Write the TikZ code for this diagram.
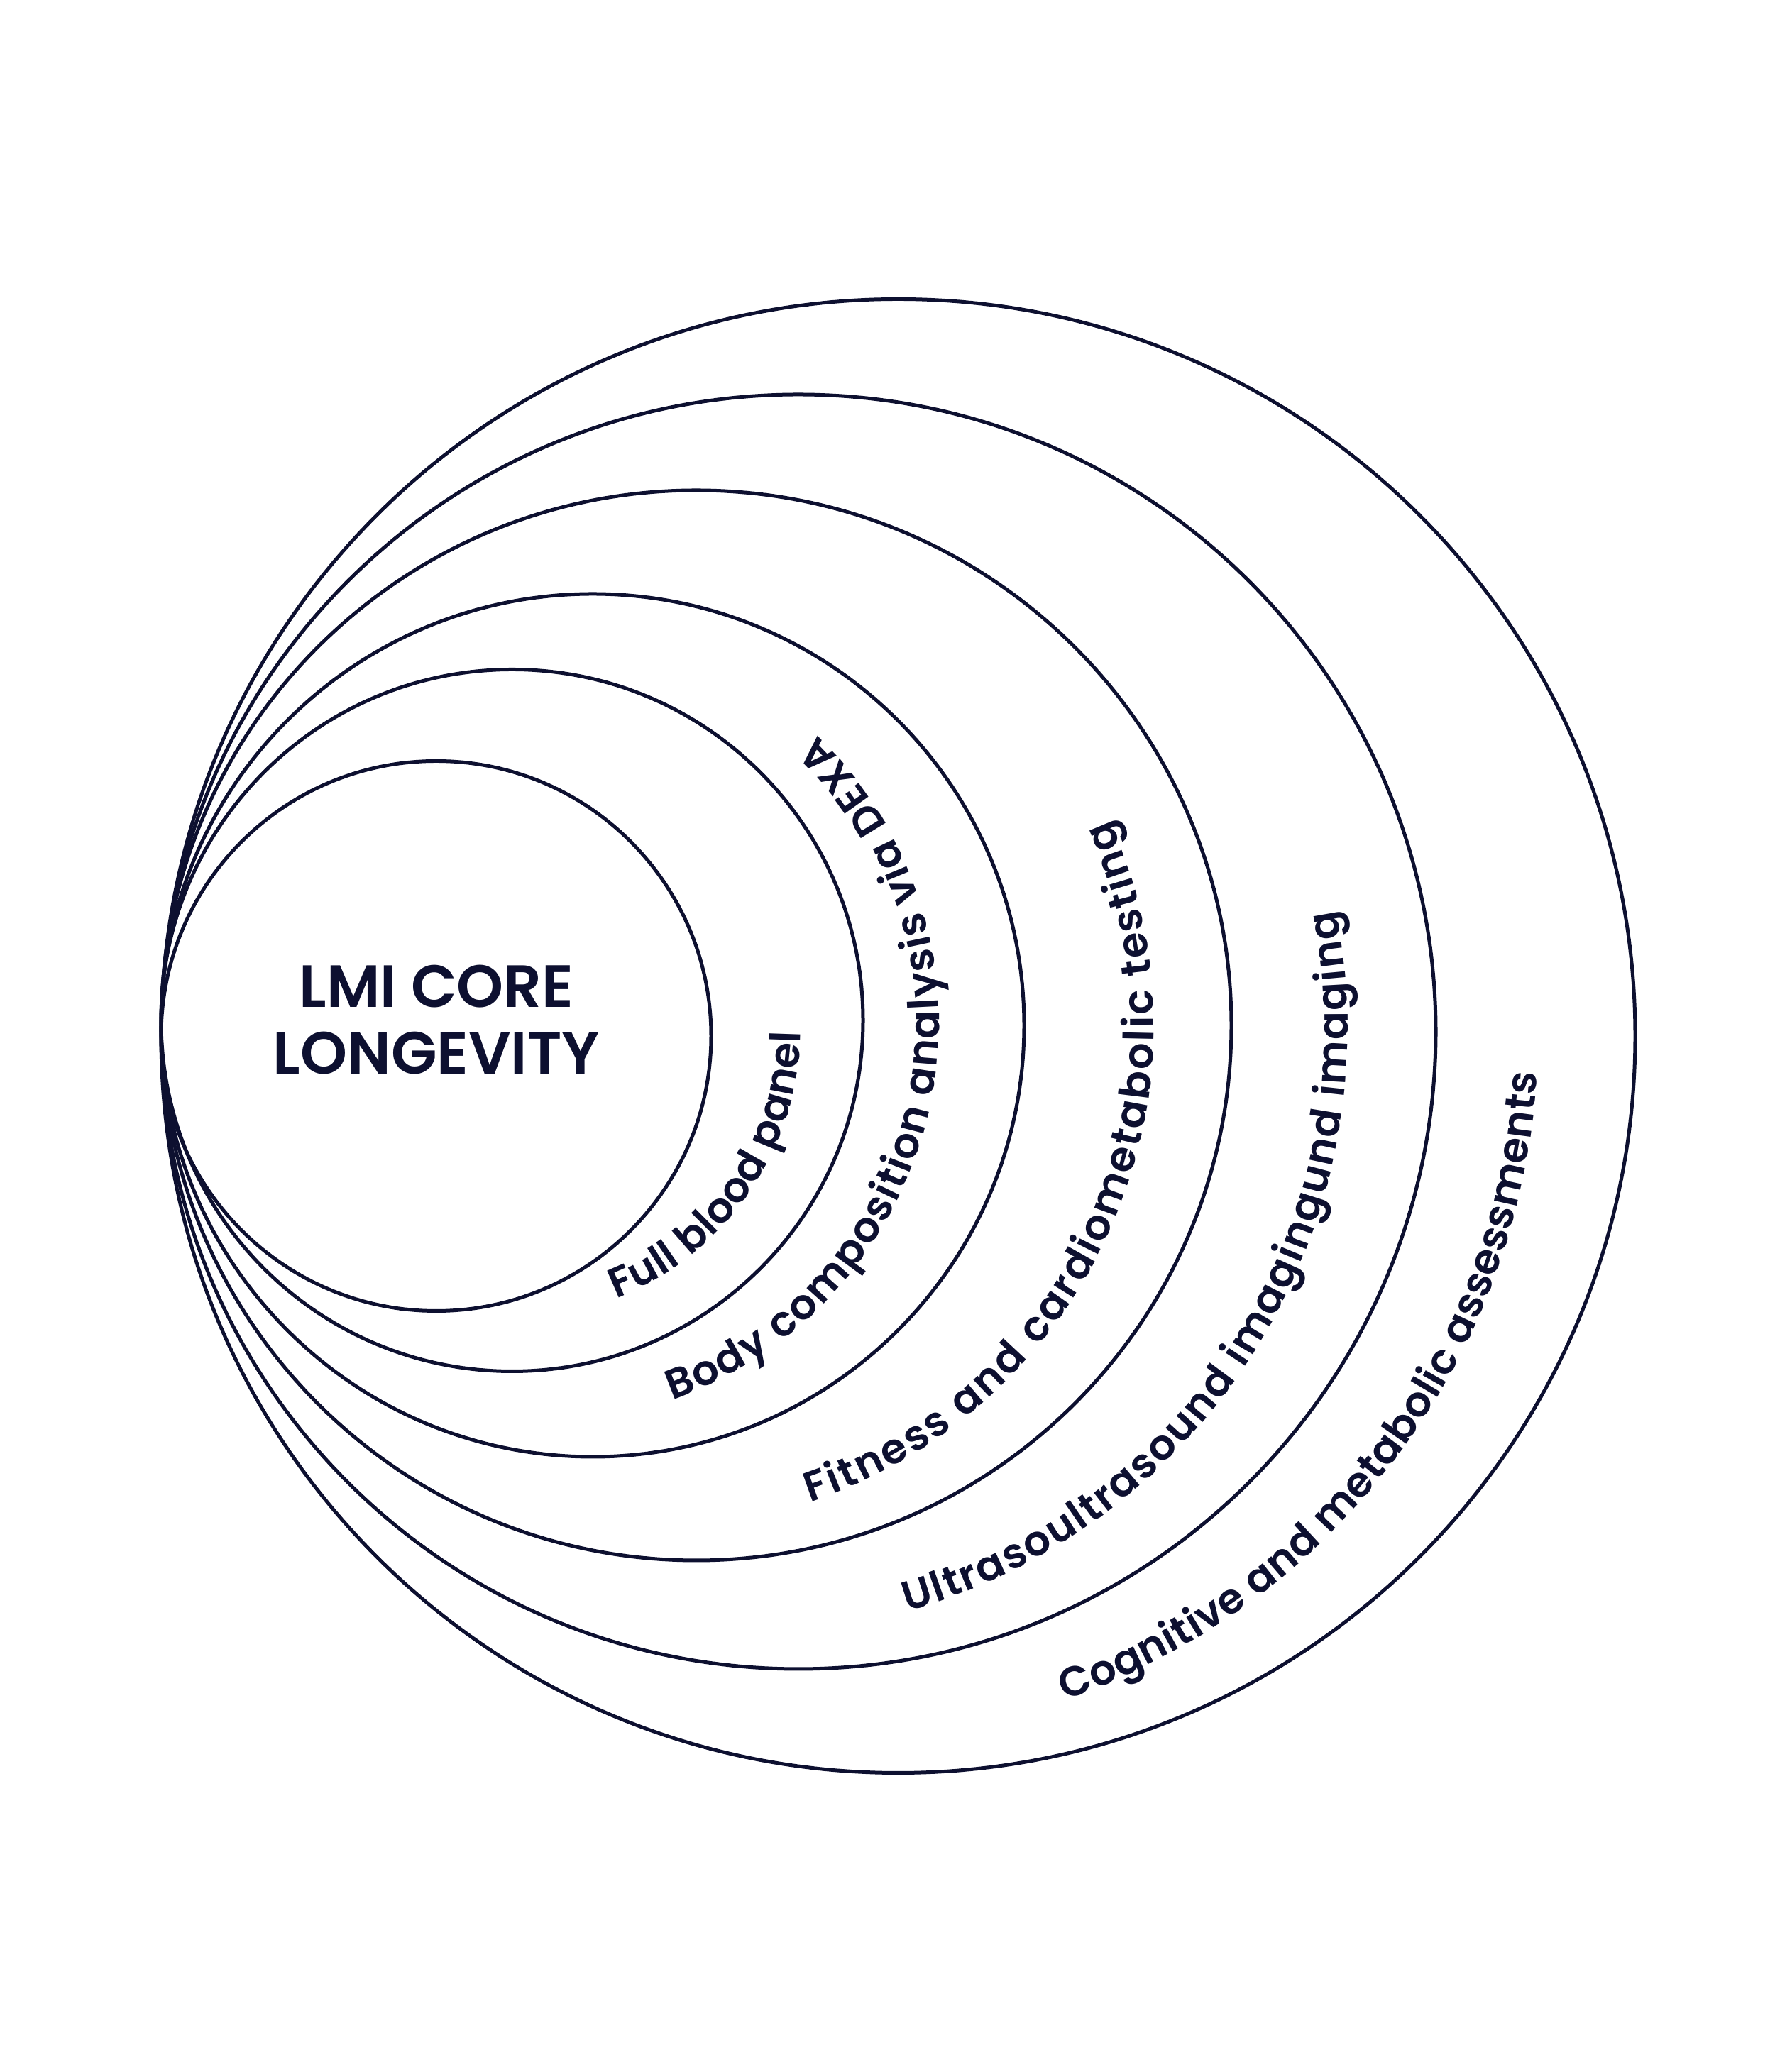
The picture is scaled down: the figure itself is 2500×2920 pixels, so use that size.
\documentclass[tikz,border=0pt]{standalone}
\usepackage{fontspec}
\setmainfont{Poppins}[UprightFont=* SemiBold, BoldFont=* SemiBold]
\usetikzlibrary{decorations.text}
\definecolor{navy}{RGB}{13,16,48}
\newcommand{\ringfont}{\fontsize{59}{70}\selectfont}
\newcommand{\titlefont}{\fontsize{84}{95}\selectfont\bfseries}
\tikzset{
  ring/.style={draw=navy, line width=5pt, circle, inner sep=0pt, outer sep=0pt},
  ringtext/.style={decorate, decoration={text along path, text color=navy,
      text align=fit to path, text={#1}}},
  titletext/.style={anchor=base, text=navy, font=\titlefont, inner sep=0pt}
}
\begin{document}
\begin{tikzpicture}[x=1pt,y=1pt]
\fill[white] (0,0) rectangle (2500,2920);
\useasboundingbox (0,0) rectangle (2500,2920);
% circles, all meeting at the left point
\node[ring, minimum size=775pt]  (c1) at (614.5,1460) {};
\node[ring, minimum size=989pt]  (c2) at (721.5,1482) {};
\node[ring, minimum size=1216pt] (c3) at (835,1475) {};
\node[ring, minimum size=1508pt] (c4) at (981,1475) {};
\node[ring, minimum size=1796pt] (c5) at (1125,1466) {};
\node[ring, minimum size=2077pt] (c6) at (1265.5,1460) {};
% title
\node[titletext] (t1) at (615,1500) {LMI CORE};
\node[titletext] (t2) at (615,1406) {LONGEVITY};
% ring labels (baseline on the outer side, letters towards the centre)
\path[ringtext={|\ringfont|Full blood panel}]
  ([shift={(-68.67:409pt)}]719.2,1471) arc[start angle=-68.67, end angle=-0.8, radius=409pt];
\path[ringtext={|\ringfont|Body composition analysis via DEXA}]
  ([shift={(-70.56:563.6pt)}]759.4,1478.5) arc[start angle=-70.56, end angle=46, radius=563.6pt];
\path[ringtext={|\ringfont|Fitness and cardiometabolic testing}]
  ([shift={(-71.6:708.2pt)}]917.6,1475) arc[start angle=-71.6, end angle=24.2, radius=708.2pt];
\path[ringtext={|\ringfont|Ultrasoultrasound imagingund imaging}]
  ([shift={(-74.13:854pt)}]1045,1470.5) arc[start angle=-74.13, end angle=11.2, radius=854pt];
\path[ringtext={|\ringfont|Cognitive and metabolic assessments}]
  ([shift={(-70.79:994.4pt)}]1172.8,1463) arc[start angle=-70.79, end angle=-3.2, radius=994.4pt];
\end{tikzpicture}
\end{document}
